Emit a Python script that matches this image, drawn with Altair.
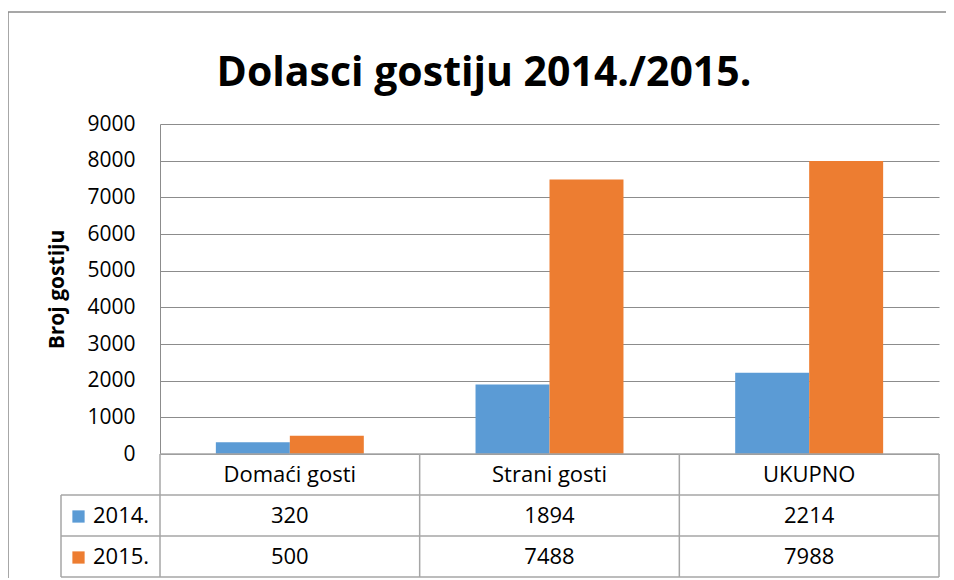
import altair as alt
import pandas as pd

# ---- data ----
categories = ["Domaći gosti", "Strani gosti", "UKUPNO"]
years = ["2014.", "2015."]
values_2014 = [320, 1894, 2214]
values_2015 = [500, 7488, 7988]
year_colors = ["#5B9BD5", "#ED7D31"]
y_ticks = [0, 1000, 2000, 3000, 4000, 5000, 6000, 7000, 8000, 9000]
title_text = "Dolasci gostiju 2014./2015."
y_title = "Broj gostiju"

records = []
for c, a, b in zip(categories, values_2014, values_2015):
    records.append({"cat": c, "year": years[0], "value": a})
    records.append({"cat": c, "year": years[1], "value": b})
df = pd.DataFrame(records)
cat_df = pd.DataFrame({"cat": categories})
year_df = pd.DataFrame({"year": years})
one_df = pd.DataFrame({"k": [0]})

# ---- layout ----
W, H = 779, 330
FONT = "Open Sans"
GRID = "#8c8c8c"
TABLE = "#a6a6a6"
ROW = 41
row_y = [H + ROW / 2, H + ROW * 1.5, H + ROW * 2.5]
LEG_LEFT = -99

x_scale = alt.Scale(domain=categories, paddingInner=0, paddingOuter=0)
x_enc = alt.X("cat:N", sort=categories, scale=x_scale, axis=None)
color_enc = alt.Color("year:N", scale=alt.Scale(domain=years, range=year_colors), legend=None)

bars = alt.Chart(df).mark_bar().encode(
    x=x_enc,
    xOffset=alt.XOffset("year:N", sort=years, scale=alt.Scale(paddingInner=0, paddingOuter=0.755)),
    y=alt.Y(
        "value:Q",
        scale=alt.Scale(domain=[0, 9000], nice=False),
        axis=alt.Axis(
            values=y_ticks, format="d", grid=True, gridColor=GRID, gridWidth=1,
            ticks=False, domainColor=GRID, domainWidth=1,
            labelFont=FONT, labelFontSize=21, labelColor="#000", labelPadding=25,
            title=y_title, titleFont=FONT, titleFontSize=21, titleFontWeight="bold",
            titleColor="#000", titleAngle=270, titleX=-97, titleY=H / 2,
            titleAlign="center", titleBaseline="alphabetic",
        ),
    ),
    color=color_enc,
)

title = alt.Chart(pd.DataFrame({"t": [title_text]})).mark_text(
    font=FONT, fontSize=41, fontWeight="bold", align="center", baseline="alphabetic", color="#000"
).encode(text="t:N", x=alt.value(324), y=alt.value(-38))

cat_text = alt.Chart(cat_df).mark_text(
    font=FONT, fontSize=22, baseline="middle", color="#000"
).encode(x=x_enc, y=alt.value(row_y[0]), text="cat:N")

layers = [bars, title, cat_text]

for yr, yv in zip(years, row_y[1:]):
    layers.append(
        alt.Chart(df).transform_filter(alt.datum.year == yr).mark_text(
            font=FONT, fontSize=22, baseline="middle", color="#000"
        ).encode(x=x_enc, y=alt.value(yv), text=alt.Text("value:Q", format="d"))
    )
    layers.append(
        alt.Chart(year_df).transform_filter(alt.datum.year == yr).mark_text(
            font=FONT, fontSize=22, baseline="middle", align="left", color="#000"
        ).encode(x=alt.value(-67), y=alt.value(yv), text="year:N")
    )
    layers.append(
        alt.Chart(year_df).transform_filter(alt.datum.year == yr).mark_square(
            size=150, opacity=1
        ).encode(x=alt.value(-81.5), y=alt.value(yv + 1), color=color_enc)
    )


def rule(x, x2, y, y2, color=TABLE, w=1.5):
    return alt.Chart(one_df).mark_rule(color=color, strokeWidth=w).encode(
        x=alt.value(x), x2=alt.value(x2), y=alt.value(y), y2=alt.value(y2)
    )


# table frame
for ry in [H + ROW, H + 2 * ROW, H + 3 * ROW]:
    layers.append(rule(LEG_LEFT, W, ry, ry))
layers.append(rule(0, W, H, H))
layers.append(rule(LEG_LEFT, LEG_LEFT, H + ROW, H + 3 * ROW))
layers.append(rule(W, W, H, H + 3 * ROW))
layers.append(
    alt.Chart(cat_df).mark_rule(color=TABLE, strokeWidth=1.5).encode(
        x=alt.X("cat:N", sort=categories, scale=x_scale, axis=None, bandPosition=0),
        y=alt.value(H), y2=alt.value(H + 3 * ROW),
    )
)
# outer chart border (top and left edges)
layers.append(rule(-152, W + 7, -112, -112, color="#8a8a8a", w=1.5))
layers.append(rule(-152, -152, -112, H + 3 * ROW + 17, color="#8a8a8a", w=1.5))

chart = alt.layer(*layers).properties(
    width=W, height=H,
    autosize=alt.AutoSizeParams(type="none"),
    padding={"left": 152, "top": 116, "right": 7, "bottom": 124},
).configure_view(strokeWidth=0)

chart.save("out.html", embed_options={"renderer": "svg", "actions": False})
